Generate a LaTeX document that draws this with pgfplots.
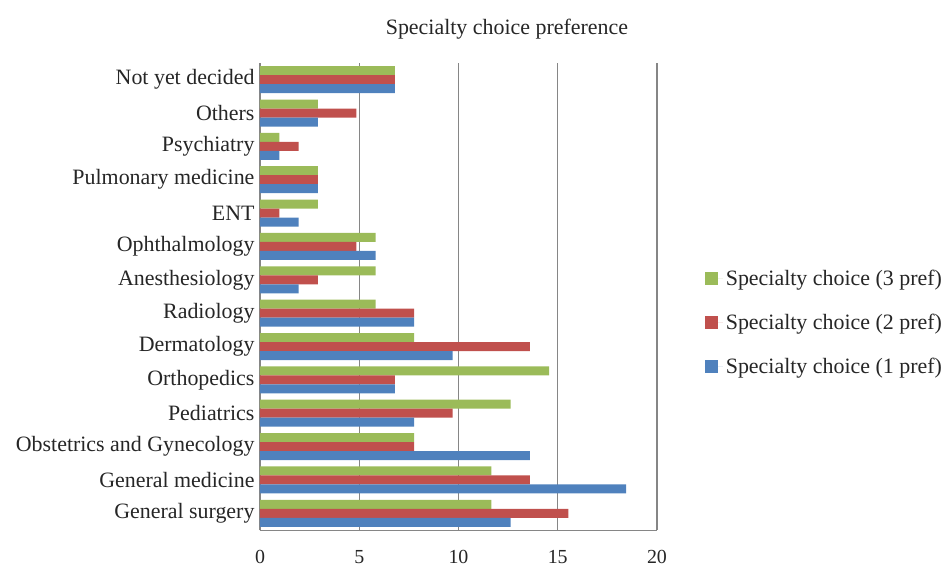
\documentclass[border=0pt]{standalone}
\usepackage{fontspec}
\setmainfont{Liberation Serif}
\usepackage{pgfplots}
\pgfplotsset{compat=1.18}
\definecolor{cblue}{HTML}{4F81BD}
\definecolor{cred}{HTML}{C0504D}
\definecolor{cgreen}{HTML}{9BBB59}
\definecolor{cgrid}{HTML}{868686}
\begin{document}
\begin{tikzpicture}
\useasboundingbox (-260bp,-38bp) rectangle (683bp,530bp);
\begin{axis}[
  at={(0,0)}, anchor=south west,
  scale only axis, width=397bp, height=467bp,
  xbar, bar width=9bp,
  xmin=0, xmax=20, ymin=-0.5, ymax=13.5,
  xtick={0,5,10,15,20},
  ytick={0,...,13},
  yticklabels={General surgery,General medicine,Obstetrics and Gynecology,Pediatrics,Orthopedics,Dermatology,Radiology,Anesthesiology,Ophthalmology,ENT,Pulmonary medicine,Psychiatry,Others,Not yet decided},
  axis x line*=bottom, axis y line*=left,
  axis line style={cgrid, line width=1bp, -},
  major tick length=0pt,
  xmajorgrids, grid style={cgrid, line width=1.2bp},
  /pgf/number format/assume math mode=true,
  tick label style={font=\fontsize{22}{26}\selectfont, text=black!85},
  yticklabel style={xshift=-2bp},
  xticklabel style={yshift=-17bp, font=\fontsize{20}{24}\selectfont},
  title={Specialty choice preference},
  title style={at={(0.622,1)}, anchor=center, yshift=28bp, font=\fontsize{22}{26}\selectfont, text=black!85},
  legend style={at={(1.12,0.445)}, anchor=west, draw=none, inner sep=0pt,
    font=\fontsize{22}{26}\selectfont, text=black!85, row sep=21bp,
    nodes={inner sep=3bp}},
  legend cell align=left,
  legend image code/.code={\fill[#1] (0bp,-6.5bp) rectangle (13bp,6.5bp); \path (0bp,0bp) -- (18bp,0bp);},
]
\addplot[fill=cgreen, draw=none, bar shift=9bp] coordinates {
 (11.65,0) (11.65,1) (7.77,2) (12.62,3) (14.56,4) (7.77,5) (5.83,6) (5.83,7) (5.83,8) (2.91,9) (2.91,10) (0.97,11) (2.91,12) (6.80,13)};
\addplot[fill=cred, draw=none, bar shift=0bp] coordinates {
 (15.53,0) (13.59,1) (7.77,2) (9.71,3) (6.80,4) (13.59,5) (7.77,6) (2.91,7) (4.85,8) (0.97,9) (2.91,10) (1.94,11) (4.85,12) (6.80,13)};
\addplot[fill=cblue, draw=none, bar shift=-9bp] coordinates {
 (12.62,0) (18.45,1) (13.59,2) (7.77,3) (6.80,4) (9.71,5) (7.77,6) (1.94,7) (5.83,8) (1.94,9) (2.91,10) (0.97,11) (2.91,12) (6.80,13)};
\legend{Specialty choice (3 pref),Specialty choice (2 pref),Specialty choice (1 pref)}
\end{axis}
\end{tikzpicture}
\end{document}
